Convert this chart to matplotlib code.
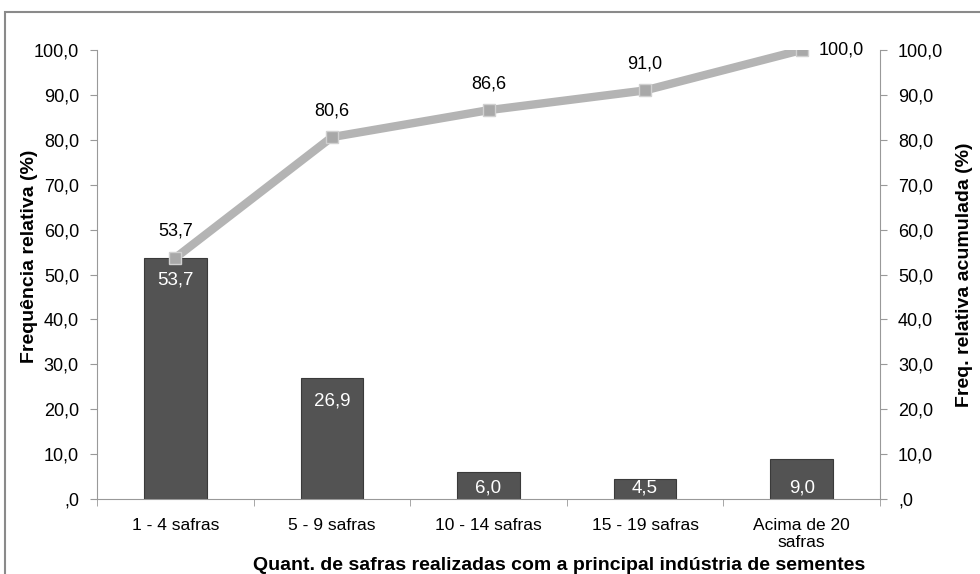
import matplotlib
matplotlib.use("Agg")
import matplotlib.pyplot as plt
from matplotlib.ticker import FuncFormatter, FixedLocator
from matplotlib.patches import Rectangle

categories = ["1 - 4 safras", "5 - 9 safras", "10 - 14 safras", "15 - 19 safras", "Acima de 20\nsafras"]
freq = [53.7, 26.9, 6.0, 4.5, 9.0]
cum = [53.7, 80.6, 86.6, 91.0, 100.0]
yticks = [0, 10, 20, 30, 40, 50, 60, 70, 80, 90, 100]


def br(v):
    s = f"{v:.1f}".replace(".", ",")
    return s[1:] if s.startswith("0,") else s


plt.rcParams["font.family"] = ["Liberation Sans", "DejaVu Sans"]

fig = plt.figure(figsize=(9.8, 5.74), dpi=100)
fig.patches.append(Rectangle((5 / 980, -0.1), 1.2, 1.1 - 12 / 574,
                             transform=fig.transFigure, fill=False,
                             edgecolor="#8a8a8a", linewidth=1.5))

ax = fig.add_axes([97 / 980, 1 - 499 / 574, 783 / 980, 449 / 574])
x = list(range(len(categories)))
ax.bar(x, freq, width=0.4, color="#535353", edgecolor="#3a3a3a", linewidth=0.8, zorder=2)
for xi, v in zip(x, freq):
    ty = v - 5 if v > 15 else 2.5
    ax.text(xi, ty, br(v), ha="center", va="center", color="white", fontsize=13.5, zorder=3)

ax.set_xlim(-0.5, len(categories) - 0.5)
ax.set_ylim(0, 100)
ax.set_yticks(yticks)
ax.yaxis.set_major_formatter(FuncFormatter(lambda v, p: br(v)))
ax.set_xticks(x)
ax.set_xticklabels(categories, fontsize=12.5, linespacing=1.1)
ax.xaxis.set_minor_locator(FixedLocator([i + 0.5 for i in range(-1, len(categories))]))
ax.tick_params(axis="x", which="major", length=0, pad=14)
ax.tick_params(axis="x", which="minor", length=5, color="#999999", direction="out")
ax.tick_params(axis="y", labelsize=13, length=5, color="#999999", pad=8)
for s in ["top", "right"]:
    ax.spines[s].set_visible(False)
for s in ["left", "bottom"]:
    ax.spines[s].set_color("#999999")
ax.set_ylabel("Frequência relativa (%)", fontsize=14, fontweight="bold")
ax.yaxis.set_label_coords(-0.0856, 0.54)
ax.yaxis.label.set_va("center")
ax.set_xlabel("Quant. de safras realizadas com a principal indústria de sementes",
              fontsize=14, fontweight="bold")
ax.xaxis.set_label_coords(0.59, -0.147)
ax.xaxis.label.set_va("center")

ax2 = ax.twinx()
ax2.set_ylim(0, 100)
ax2.set_yticks(yticks)
ax2.yaxis.set_major_formatter(FuncFormatter(lambda v, p: br(v)))
ax2.tick_params(axis="y", labelsize=13, length=5, color="#999999", pad=8)
for s in ["top", "left", "bottom"]:
    ax2.spines[s].set_visible(False)
ax2.spines["right"].set_color("#999999")
ax2.set_ylabel("Freq. relativa acumulada (%)", fontsize=14, fontweight="bold")
ax2.yaxis.set_label_coords(1.108, 0.5)
ax2.yaxis.label.set_va("center")

ax2.plot(x, cum, color="#b4b4b4", linewidth=6, solid_capstyle="butt", zorder=4,
         marker="s", markersize=9, markerfacecolor="#a8a8a8", markeredgecolor="#d0d0d0",
         markeredgewidth=1)
for xi, v in zip(x, cum):
    if xi == len(cum) - 1:
        ax2.annotate(br(v), (xi, v), xytext=(12, 0), textcoords="offset points",
                     ha="left", va="center", fontsize=13)
    else:
        ax2.annotate(br(v), (xi, v), xytext=(0, 13), textcoords="offset points",
                     ha="center", va="bottom", fontsize=13)

fig.savefig("out.png", dpi=100)
